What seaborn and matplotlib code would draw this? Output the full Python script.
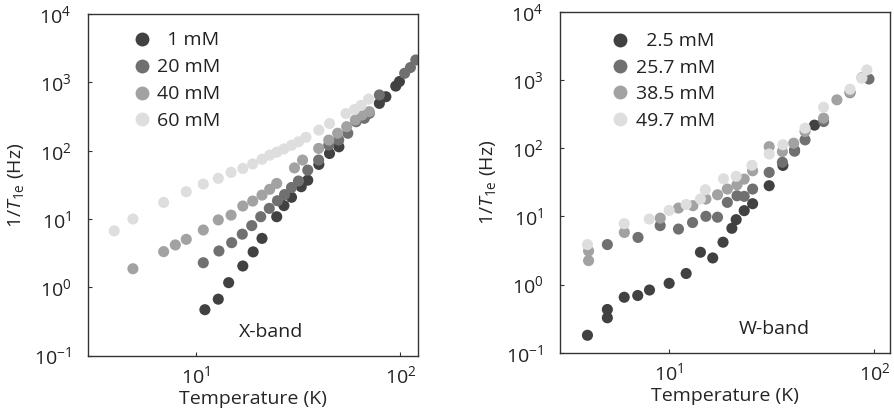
import numpy as np
import pandas as pd
import seaborn as sns
import matplotlib.pyplot as plt
from matplotlib.ticker import LogLocator, NullLocator

# ---- X-band data (left) ----
x_labels = ['  1 mM', '20 mM', '40 mM', '60 mM']
x_T_1 = [11.1, 12.9, 14.5, 17.0, 19.1, 21.1, 24.9, 27.0, 29.4, 32.8, 35.3, 40.0, 45.1, 50.1, 79, 85, 95, 99]
x_R_1 = [0.47, 0.67, 1.17, 2.05, 3.3, 5.2, 10.8, 15.7, 20.8, 29.7, 37, 63, 91, 114, 493, 617, 883, 1030]
x_T_20 = [10.9, 13.0, 15.0, 16.9, 18.8, 20.8, 22.9, 25.1, 27.2, 29.4, 31.8, 35.3, 39.9, 44.7, 50, 55.4,
          60.8, 66.7, 70.6, 79, 105, 112, 119]
x_R_20 = [2.29, 3.4, 4.5, 6.0, 8.0, 10.8, 14.3, 18.5, 22.8, 28.9, 36, 52, 73, 121, 143, 180,
          266, 298, 353, 655, 1360, 1650, 2130]
x_T_40 = [4.94, 6.98, 7.96, 9.0, 10.9, 12.9, 14.9, 17.0, 19.0, 21.1, 23.0, 24.9, 30.4, 33.3,
          39.9, 44.7, 49.4, 54.7, 60.3, 65, 70.6]
x_R_40 = [1.87, 3.33, 4.17, 5.04, 6.9, 9.7, 11.4, 15.5, 18.3, 22.4, 27.2, 33.2, 56, 73,
          108, 143, 180, 225, 281, 333, 373]
x_T_60 = [4.0, 4.94, 6.98, 9.0, 10.9, 12.9, 14.9, 17.0, 19.0, 21.1, 23.0, 24.9, 27.0, 29.4, 31.8,
          34.6, 40.0, 45.1, 54.3, 59.7, 64.3, 70]
x_R_60 = [6.7, 10.0, 17.5, 25.1, 32.5, 39.4, 48.2, 55, 64, 75, 86, 95, 106, 120, 135,
          157, 200, 250, 350, 400, 460, 570]

# ---- W-band data (right) ----
w_labels = ['  2.5 mM', '25.7 mM', '38.5 mM', '49.7 mM']
w_T_1 = [4.0, 5.0, 5.0, 6.04, 7.03, 8.02, 10.0, 12.1, 14.2, 16.3, 18.3, 20.2, 21.2, 23.2, 25.5,
         30.7, 35.8, 40.8, 51]
w_R_1 = [0.18, 0.325, 0.43, 0.65, 0.69, 0.83, 1.04, 1.45, 2.97, 2.45, 4.17, 6.67, 8.93, 12.1, 15.3,
         28.1, 55.7, 92.5, 217]
w_T_2 = [5.0, 7.05, 9.04, 11.1, 13.0, 15.1, 17.2, 19.2, 21.4, 23.2, 25.5, 30.7, 35.6, 40.8, 45.9,
         56.5, 76, 94]
w_R_2 = [3.85, 4.9, 7.3, 6.5, 8.1, 10.0, 9.7, 16.0, 20, 19.6, 25.1, 44, 62, 90, 132,
         245, 650, 1030]
w_T_3 = [4.05, 4.05, 6.05, 9.05, 11.1, 13.05, 15.1, 17.2, 19.2, 21.4, 23.2, 25.5, 30.7, 35.6,
         40.4, 45.9, 56.5, 65.6, 76, 86.9]
w_R_3 = [2.24, 3.1, 5.8, 9.4, 13.2, 14.3, 17.9, 20.7, 25.1, 29, 35.1, 46.5, 105, 89,
         118, 175, 275, 510, 660, 1080]
w_T_4 = [4.0, 6.04, 8.0, 10.0, 12.1, 14.2, 15.0, 18.4, 21.2, 25.3, 30.7, 35.8, 45.9, 56.5, 76, 86.7, 91.8]
w_R_4 = [3.85, 7.8, 9.1, 12.2, 14.9, 17.9, 24.5, 35.5, 38.5, 56, 82, 112, 196, 398, 730, 1060, 1400]

greys = ['#414141', '#707070', '#a2a2a2', '#dedede']


def make_df(Ts, Rs, labels):
    parts = []
    for T, R, lab in zip(Ts, Rs, labels):
        parts.append(pd.DataFrame({'T': T, 'R': R, 'conc': lab}))
    return pd.concat(parts, ignore_index=True)


df_x = make_df([x_T_1, x_T_20, x_T_40, x_T_60], [x_R_1, x_R_20, x_R_40, x_R_60], x_labels)
df_w = make_df([w_T_1, w_T_2, w_T_3, w_T_4], [w_R_1, w_R_2, w_R_3, w_R_4], w_labels)

sns.set_style('ticks')
plt.rcParams['font.family'] = ['Open Sans', 'DejaVu Sans']
plt.rcParams['mathtext.fontset'] = 'custom'
plt.rcParams['mathtext.rm'] = 'Open Sans'
plt.rcParams['mathtext.it'] = 'Open Sans:italic'
plt.rcParams['axes.unicode_minus'] = False
plt.rcParams['text.color'] = '#222222'

fig = plt.figure(figsize=(8.95, 4.11), dpi=100)
ax1 = fig.add_axes([88 / 895, 1 - 355.6 / 411, (418 - 88) / 895, (355.6 - 14.1) / 411])
ax2 = fig.add_axes([560 / 895, 1 - 352.7 / 411, (890 - 560) / 895, (352.7 - 11.7) / 411])

panels = [(ax1, df_x, x_labels, (2.98, 122), 'X-band', 0.555, (0.115, 0.972), 0.46),
          (ax2, df_w, w_labels, (2.94, 119), 'W-band', 0.65, (0.135, 0.962), 0.43)]

for ax, df, labels, xlim, band, bx, anchor, lspace in panels:
    sns.scatterplot(data=df, x='T', y='R', hue='conc', hue_order=labels,
                    palette=greys, s=64, linewidth=0, alpha=1, ax=ax)
    ax.set_xscale('log')
    ax.set_yscale('log')
    ax.set_xlim(*xlim)
    ax.set_ylim(0.1, 1e4)
    ax.xaxis.set_major_locator(LogLocator(base=10, numticks=10))
    ax.yaxis.set_major_locator(LogLocator(base=10, numticks=10))
    ax.xaxis.set_minor_locator(NullLocator())
    ax.yaxis.set_minor_locator(NullLocator())
    ax.tick_params(direction='in', length=3, width=0.8, colors='#333333',
                   labelsize=14, labelcolor='#222222')
    ax.tick_params(axis='y', pad=12)
    ax.tick_params(axis='x', pad=7)
    for sp in ax.spines.values():
        sp.set_visible(True)
        sp.set_color('#333333')
        sp.set_linewidth(1.0)
    ax.set_xlabel('Temperature (K)', fontsize=14, labelpad=2)
    ax.set_ylabel(r'1/$\mathit{T}_{\mathrm{1e}}$ (Hz)', fontsize=14, labelpad=6)
    ax.text(bx, 0.07, band, transform=ax.transAxes, fontsize=14, ha='center', va='center')
    ax.legend(loc='upper left', bbox_to_anchor=anchor, frameon=False,
              fontsize=14, handlelength=0.8, handletextpad=0.4, labelspacing=lspace,
              borderaxespad=0, markerscale=1.25)

fig.savefig('out.png', dpi=100)
